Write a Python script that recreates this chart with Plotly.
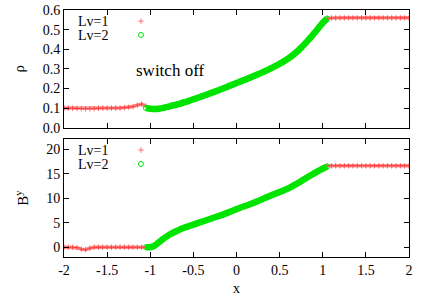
import plotly.graph_objects as go
from plotly.subplots import make_subplots

# ---------------- data ----------------
x_lv1_left = [-2.00, -1.95, -1.90, -1.85, -1.80, -1.75, -1.70, -1.65, -1.60, -1.55,
              -1.50, -1.45, -1.40, -1.35, -1.30, -1.25, -1.20, -1.15, -1.10, -1.05]
x_lv1_right = [1.05, 1.10, 1.15, 1.20, 1.25, 1.30, 1.35, 1.40, 1.45, 1.50,
               1.55, 1.60, 1.65, 1.70, 1.75, 1.80, 1.85, 1.90, 1.95, 2.00]
x_lv2 = [-1.05, -1.00, -0.95, -0.90, -0.85, -0.80, -0.75, -0.70, -0.65, -0.60,
         -0.55, -0.50, -0.45, -0.40, -0.35, -0.30, -0.25, -0.20, -0.15, -0.10,
         -0.05, 0.00, 0.05, 0.10, 0.15, 0.20, 0.25, 0.30, 0.35, 0.40,
         0.45, 0.50, 0.55, 0.60, 0.65, 0.70, 0.75, 0.80, 0.85, 0.90,
         0.95, 1.00, 1.05]

rho_lv1_left = [0.100, 0.100, 0.099, 0.098, 0.097, 0.096, 0.096, 0.097, 0.099, 0.100,
                0.100, 0.100, 0.100, 0.101, 0.102, 0.104, 0.108, 0.115, 0.120, 0.110]
rho_lv1_right = [0.558, 0.560, 0.560, 0.560, 0.560, 0.560, 0.560, 0.560, 0.560, 0.560,
                 0.560, 0.560, 0.560, 0.560, 0.560, 0.560, 0.560, 0.560, 0.560, 0.560]
rho_lv2 = [0.100, 0.097, 0.095, 0.097, 0.101, 0.106, 0.112, 0.117, 0.123, 0.130,
           0.137, 0.145, 0.152, 0.160, 0.168, 0.176, 0.184, 0.192, 0.201, 0.210,
           0.219, 0.228, 0.236, 0.245, 0.254, 0.263, 0.272, 0.282, 0.292, 0.303,
           0.314, 0.326, 0.339, 0.353, 0.369, 0.387, 0.408, 0.431, 0.455, 0.481,
           0.508, 0.535, 0.556]

by_lv1_left = [0.0, 0.0, 0.0, -0.1, -0.4, -0.5, -0.2, 0.0, 0.0, 0.0,
               0.0, 0.0, 0.0, 0.0, 0.0, 0.0, 0.0, 0.0, 0.0, 0.0]
by_lv1_right = [16.6, 16.6, 16.6, 16.6, 16.6, 16.6, 16.6, 16.6, 16.6, 16.6,
                16.6, 16.6, 16.6, 16.6, 16.6, 16.6, 16.6, 16.6, 16.6, 16.6]
by_lv2 = [0.0, 0.0, 0.3, 1.0, 1.7, 2.3, 2.8, 3.25, 3.65, 4.0,
          4.3, 4.6, 4.9, 5.2, 5.5, 5.8, 6.1, 6.4, 6.7, 7.05,
          7.4, 7.75, 8.1, 8.4, 8.7, 9.05, 9.4, 9.8, 10.2, 10.55,
          10.9, 11.25, 11.6, 12.0, 12.45, 12.95, 13.45, 14.0, 14.55, 15.05,
          15.55, 16.0, 16.45]

x_ticks = [-2, -1.5, -1, -0.5, 0, 0.5, 1, 1.5, 2]
x_tick_labels = ["-2", "-1.5", "-1", "-0.5", "0", "0.5", "1", "1.5", "2"]
rho_ticks = [0.0, 0.1, 0.2, 0.3, 0.4, 0.5, 0.6]
rho_tick_labels = ["0.0", "0.1", "0.2", "0.3", "0.4", "0.5", "0.6"]
by_ticks = [0, 5, 10, 15, 20]
by_tick_labels = ["0", "5", "10", "15", "20"]
series_names = ["Lv=1", "Lv=2"]

# ---------------- style ----------------
FONT = "Liberation Serif, Times New Roman, Times, serif"
RED_LINE = "rgba(255,0,0,0.42)"
RED_MK = "rgba(255,0,0,0.5)"
GREEN = "rgb(0,228,0)"

fig = make_subplots(rows=2, cols=1, shared_xaxes=False, vertical_spacing=0.047)

def add_panel(row, left, right, lv2, leg_red, leg_green):
    xs_red = x_lv1_left + [None] + x_lv1_right
    ys_red = left + [None] + right
    # red (Lv=1) drawn first
    fig.add_trace(go.Scatter(x=xs_red, y=ys_red, mode="lines",
                             line=dict(color=RED_LINE, width=3.5),
                             showlegend=False, hoverinfo="skip"), row=row, col=1)
    fig.add_trace(go.Scatter(x=xs_red, y=ys_red, mode="markers", name=" ",
                             marker=dict(symbol="cross-thin", size=4, color=RED_MK,
                                         line=dict(color=RED_MK, width=1)),
                             legend=leg_red, showlegend=True), row=row, col=1)
    # green (Lv=2)
    fig.add_trace(go.Scatter(x=x_lv2, y=lv2, mode="lines",
                             line=dict(color=GREEN, width=6.5, shape="spline", smoothing=0.6),
                             showlegend=False, hoverinfo="skip"), row=row, col=1)
    fig.add_trace(go.Scatter(x=x_lv2, y=lv2, mode="markers", name=" ",
                             marker=dict(symbol="circle-open", size=5, color=GREEN,
                                         line=dict(color=GREEN, width=1)),
                             legend=leg_green, showlegend=True), row=row, col=1)

add_panel(1, rho_lv1_left, rho_lv1_right, rho_lv2, "legend", "legend2")
add_panel(2, by_lv1_left, by_lv1_right, by_lv2, "legend3", "legend4")

axis_common = dict(showgrid=False, zeroline=False, showline=True, linecolor="black",
                   linewidth=1, mirror="allticks", ticks="inside", ticklen=5,
                   tickcolor="black", automargin=False,
                   tickfont=dict(family=FONT, size=14, color="black"))

fig.update_xaxes(range=[-2, 2], tickvals=x_ticks, ticktext=x_tick_labels, **axis_common)
fig.update_xaxes(showticklabels=False, row=1, col=1)
fig.update_xaxes(title=dict(text="x", font=dict(family=FONT, size=14, color="black"),
                            standoff=6), row=2, col=1)
fig.update_yaxes(**axis_common)
fig.update_yaxes(range=[0, 0.6], tickvals=rho_ticks, ticktext=rho_tick_labels,
                 title=dict(text="ρ", font=dict(family=FONT, size=15, color="black"),
                            standoff=14), row=1, col=1)
fig.update_yaxes(range=[-2, 22], tickvals=by_ticks, ticktext=by_tick_labels,
                 title=dict(text="B<sup>y</sup>", font=dict(family=FONT, size=15, color="black"),
                            standoff=13), row=2, col=1)

legend_common = dict(font=dict(family=FONT, size=10, color="black"),
                     bgcolor="rgba(0,0,0,0)", borderwidth=0,
                     itemwidth=30, xanchor="left", yanchor="middle")

LEG_X = 0.165
fig.update_layout(
    width=436, height=305,
    margin=dict(l=64, r=27, t=10, b=48, autoexpand=False),
    paper_bgcolor="white", plot_bgcolor="white",
    font=dict(family=FONT, size=14, color="black"),
    legend=dict(x=LEG_X, y=0.955, **legend_common),
    legend2=dict(x=LEG_X, y=0.899, **legend_common),
    legend3=dict(x=LEG_X, y=0.433, **legend_common),
    legend4=dict(x=LEG_X, y=0.377, **legend_common),
)

# legend labels (text left of the symbol, as in the original)
for label, yp in [(series_names[0], 0.955), (series_names[1], 0.899),
                  (series_names[0], 0.433), (series_names[1], 0.377)]:
    fig.add_annotation(text=label, xref="paper", yref="paper", x=0.036, y=yp,
                       xanchor="left", yanchor="middle", showarrow=False, height=12,
                       font=dict(family=FONT, size=14, color="black"))

fig.add_annotation(text="switch off", xref="x", yref="y", x=-0.77, y=0.29,
                   showarrow=False, font=dict(family=FONT, size=17, color="black"))

fig.write_html("out.html", config={"displayModeBar": False},
               post_script="document.body.style.margin='0';")
